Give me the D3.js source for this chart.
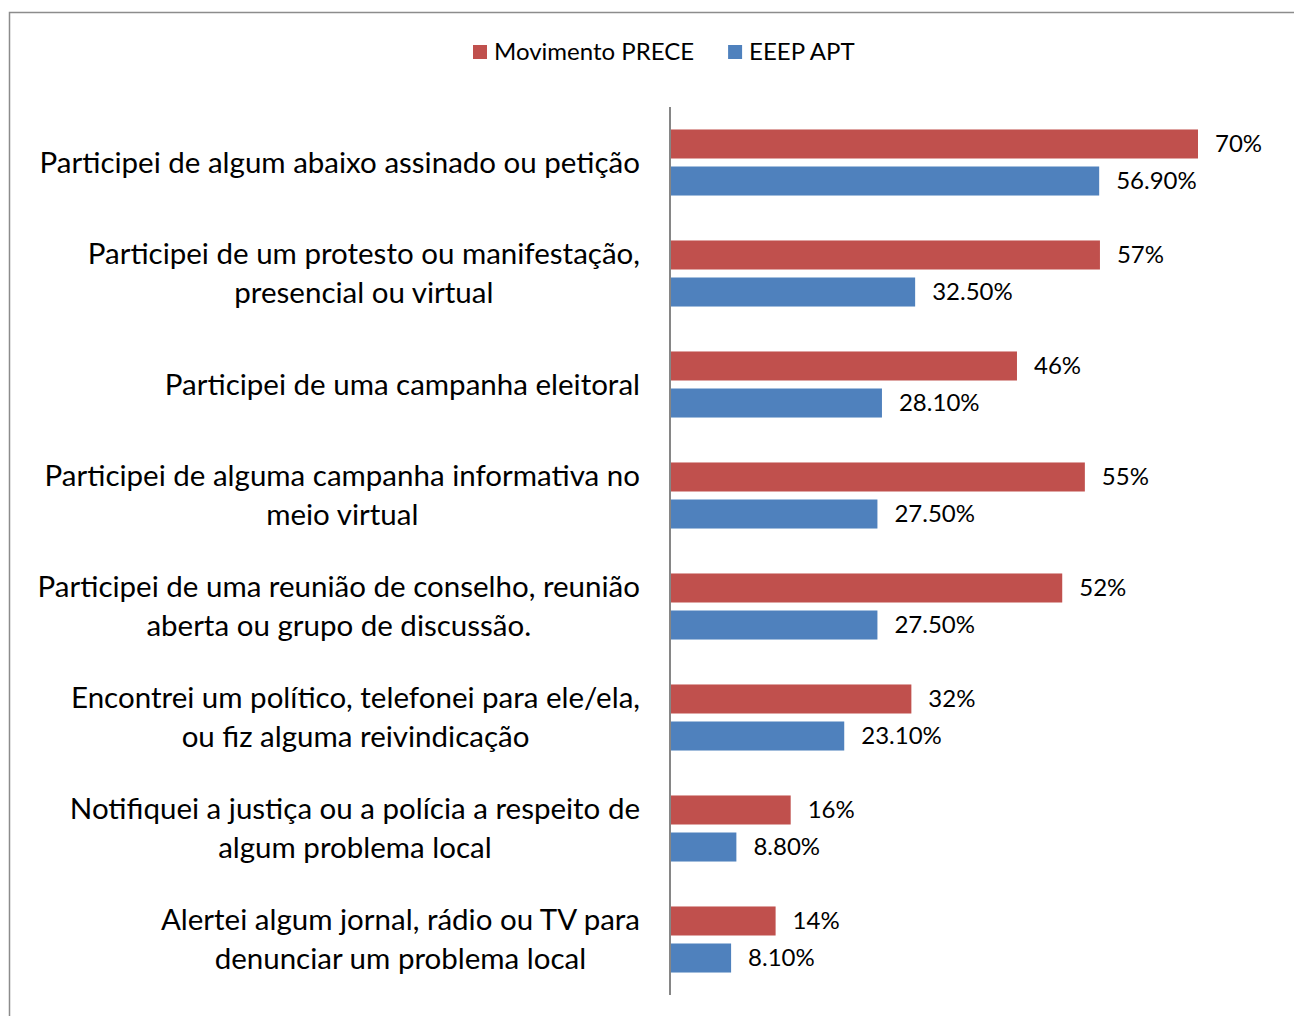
<!DOCTYPE html>
<html>
<head>
<meta charset="utf-8">
<script src="https://cdn.jsdelivr.net/npm/d3@7"></script>
<style>
    body { margin: 0; background: #fff; }
    svg { font-family: Lato, "Open Sans", sans-serif; }
</style>
</head>
<body>
<div id="chart"></div>
<script>
// categories, each an array of lines as they wrap in the original
const categories = [
    ["Participei de algum abaixo assinado ou petição"],
    ["Participei de um protesto ou manifestação,", "presencial ou virtual"],
    ["Participei de uma campanha eleitoral"],
    ["Participei de alguma campanha informativa no", "meio virtual"],
    ["Participei de uma reunião de conselho, reunião", "aberta ou grupo de discussão."],
    ["Encontrei um político, telefonei para ele/ela,", "ou fiz alguma reivindicação"],
    ["Notifiquei a justiça ou a polícia a respeito de", "algum problema local"],
    ["Alertei algum jornal, rádio ou TV para", "denunciar um problema local"]
];
const seriesNames = ["Movimento PRECE", "EEEP APT"];
const prece = [70, 57, 46, 55, 52, 32, 16, 14];
const eeep = [56.9, 32.5, 28.1, 27.5, 27.5, 23.1, 8.8, 8.1];
const preceLabels = ["70%", "57%", "46%", "55%", "52%", "32%", "16%", "14%"];
const eeepLabels = ["56.90%", "32.50%", "28.10%", "27.50%", "27.50%", "23.10%", "8.80%", "8.10%"];
const colors = ["#C0504D", "#4F81BD"];

const width = 1294;
const height = 1016;
const plotLeft = 670;
const plotTop = 107;
const plotBottom = 995;

const svg = d3.select("#chart").append("svg")
    .attr("width", width)
    .attr("height", height);

// outer frame
svg.append("rect")
    .attr("x", 9.5)
    .attr("y", 12.5)
    .attr("width", width + 20)
    .attr("height", height + 20)
    .attr("fill", "none")
    .attr("stroke", "#8c8c8c")
    .attr("stroke-width", 1.5);

const rows = categories.map(function (c, i) {
    return {
        key: i,
        lines: c,
        values: [
            { series: 0, value: prece[i], label: preceLabels[i] },
            { series: 1, value: eeep[i], label: eeepLabels[i] }
        ]
    };
});

const y = d3.scaleBand()
    .domain(rows.map(d => d.key))
    .range([plotTop, plotBottom])
    .paddingInner(0.405)
    .paddingOuter(0.2025);

const ySeries = d3.scaleBand()
    .domain([0, 1])
    .range([0, y.bandwidth()])
    .paddingInner(0.216);

const x = d3.scaleLinear()
    .domain([0, 70])
    .range([plotLeft, 1198]);

const groups = svg.selectAll(".cat")
    .data(rows)
    .enter().append("g")
    .attr("class", "cat")
    .attr("transform", d => "translate(0," + y(d.key) + ")");

groups.selectAll("rect")
    .data(d => d.values)
    .enter().append("rect")
    .attr("x", x(0))
    .attr("y", d => ySeries(d.series))
    .attr("width", d => x(d.value) - x(0))
    .attr("height", ySeries.bandwidth())
    .attr("fill", d => colors[d.series]);

groups.selectAll(".val")
    .data(d => d.values)
    .enter().append("text")
    .attr("class", "val")
    .attr("x", d => x(d.value) + 17)
    .attr("y", d => ySeries(d.series) + ySeries.bandwidth() / 2)
    .attr("dy", "0.35em")
    .style("font-size", "24px")
    .attr("fill", "#000")
    .text(d => d.label);

// category labels: lines centred on each other, block right-aligned to x=640
const labelRight = 640;
const lineHeight = 39;
groups.each(function (d) {
    const g = d3.select(this);
    const center = y.bandwidth() / 2;
    const t = g.append("text")
        .style("font-size", "29.5px")
        .attr("fill", "#000")
        .attr("text-anchor", "middle");
    const n = d.lines.length;
    const spans = d.lines.map(function (line, j) {
        return t.append("tspan")
            .attr("y", center + (j - (n - 1) / 2) * lineHeight)
            .attr("dy", "0.35em")
            .text(line);
    });
    const maxW = d3.max(spans, s => s.node().getComputedTextLength());
    spans.forEach(s => s.attr("x", labelRight - maxW / 2));
});

// vertical axis line
svg.append("line")
    .attr("x1", plotLeft)
    .attr("x2", plotLeft)
    .attr("y1", plotTop)
    .attr("y2", plotBottom)
    .attr("stroke", "#868686")
    .attr("stroke-width", 2);

// legend
const legend = svg.append("g")
    .attr("transform", "translate(473,52)");
let lx = 0;
seriesNames.forEach(function (name, i) {
    const item = legend.append("g").attr("transform", "translate(" + lx + ",0)");
    item.append("rect")
        .attr("x", 0)
        .attr("y", -7)
        .attr("width", 14)
        .attr("height", 14)
        .attr("fill", colors[i]);
    const txt = item.append("text")
        .attr("x", 21)
        .attr("dy", "0.35em")
        .style("font-size", "24px")
        .attr("fill", "#000")
        .text(name);
    lx += 21 + txt.node().getComputedTextLength() + 34;
});
</script>
</body>
</html>
